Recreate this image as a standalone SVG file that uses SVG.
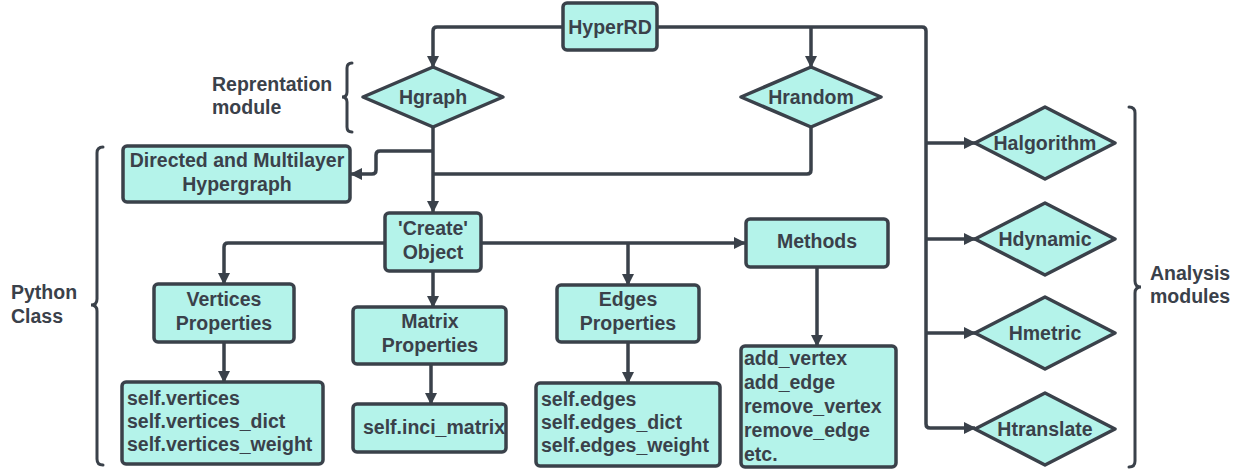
<svg xmlns="http://www.w3.org/2000/svg" width="1245" height="470" viewBox="0 0 1245 470">
<defs>
<marker id="ah" markerUnits="userSpaceOnUse" markerWidth="14" markerHeight="14" refX="11" refY="6" orient="auto">
<path d="M0,0 L12,6 L0,12 Z" fill="#3a414a"/>
</marker>
<style>
.n{fill:#b4f3ea;stroke:#3a414a;stroke-width:3.5;stroke-linejoin:round}
.t{font-family:"Liberation Sans",Arial,sans-serif;font-weight:bold;font-size:19.5px;fill:#3a414a}
.c{text-anchor:middle}
.e{fill:none;stroke:#3a414a;stroke-width:3.5;stroke-linejoin:round}
.a{marker-end:url(#ah)}
.b{fill:none;stroke:#3a414a;stroke-width:3;stroke-linecap:round}
</style>
</defs>
<rect width="1245" height="470" fill="#ffffff"/>
<g id="connectors">
<path class="e a" d="M563,27 H437 Q433,27 433,31 V67"/>
<path class="e a" d="M657,27 H922 Q926,27 926,31 V424 Q926,428 930,428 H975"/>
<path class="e a" d="M811,27 V67"/>
<path class="e a" d="M926,143 H975"/>
<path class="e a" d="M926,239 H975"/>
<path class="e a" d="M926,333 H975"/>
<path class="e a" d="M433,127 V212"/>
<path class="e a" d="M433,151 H380 Q376,151 376,155 V170 Q376,174 372,174 H351"/>
<path class="e" d="M811,127 V170 Q811,174 807,174 H433"/>
<path class="e a" d="M385,243 H228 Q224,243 224,247 V284"/>
<path class="e a" d="M481,243 H745"/>
<path class="e a" d="M628,243 V285"/>
<path class="e a" d="M433,271 V307"/>
<path class="e a" d="M224,342 V382"/>
<path class="e a" d="M431,364 V404"/>
<path class="e a" d="M628,342 V383"/>
<path class="e a" d="M817,267 V346"/>
</g>
<g id="braces">
<path class="b" d="M352,63 Q347,63 347,68 V92 Q347,97 342,97 Q347,97 347,102 V127 Q347,132 352,132"/>
<path class="b" d="M103,147 Q97,147 97,153 V299 Q97,305 91,305 Q97,305 97,311 V459 Q97,465 103,465"/>
<path class="b" d="M1129,107 Q1135,107 1135,113 V281 Q1135,287 1141,287 Q1135,287 1135,293 V461 Q1135,467 1129,467"/>
</g>
<g id="label-reprentation"><text class="t" x="212" y="91">Reprentation</text><text class="t" x="212" y="114">module</text></g>
<g id="label-python"><text class="t" x="11" y="299">Python</text><text class="t" x="11" y="323">Class</text></g>
<g id="label-analysis"><text class="t" x="1150" y="280">Analysis</text><text class="t" x="1150" y="303">modules</text></g>
<g id="hyperrd"><rect class="n" x="563" y="3" width="94" height="47" rx="4"/><text class="t c" x="610" y="34">HyperRD</text></g>
<g id="hgraph"><polygon class="n" points="433,67 503,97 433,127 363,97"/><text class="t c" x="433" y="104">Hgraph</text></g>
<g id="hrandom"><polygon class="n" points="811,67 881,97 811,127 741,97"/><text class="t c" x="811" y="104">Hrandom</text></g>
<g id="halgorithm"><polygon class="n" points="1045,107 1115,143 1045,179 975,143"/><text class="t c" x="1045" y="150">Halgorithm</text></g>
<g id="hdynamic"><polygon class="n" points="1045,203 1115,239 1045,275 975,239"/><text class="t c" x="1045" y="246">Hdynamic</text></g>
<g id="hmetric"><polygon class="n" points="1045,297 1115,333 1045,369 975,333"/><text class="t c" x="1045" y="340">Hmetric</text></g>
<g id="htranslate"><polygon class="n" points="1045,393 1115,429 1045,465 975,429"/><text class="t c" x="1045" y="436">Htranslate</text></g>
<g id="directed"><rect class="n" x="123" y="146" width="227" height="56" rx="4"/><text class="t c" x="237" y="167">Directed and Multilayer</text><text class="t c" x="237" y="191">Hypergraph</text></g>
<g id="create"><rect class="n" x="385" y="213" width="96" height="58" rx="4"/><text class="t c" x="433" y="235">'Create'</text><text class="t c" x="433" y="259">Object</text></g>
<g id="methods"><rect class="n" x="746" y="219" width="142" height="48" rx="4"/><text class="t c" x="817" y="248">Methods</text></g>
<g id="vertices"><rect class="n" x="154" y="284" width="140" height="58" rx="4"/><text class="t c" x="224" y="306">Vertices</text><text class="t c" x="224" y="330">Properties</text></g>
<g id="matrix"><rect class="n" x="353" y="307" width="153" height="57" rx="4"/><text class="t c" x="430" y="328">Matrix</text><text class="t c" x="430" y="352">Properties</text></g>
<g id="edges"><rect class="n" x="557" y="285" width="142" height="57" rx="4"/><text class="t c" x="628" y="306">Edges</text><text class="t c" x="628" y="330">Properties</text></g>
<g id="vertices-attrs"><rect class="n" x="122" y="382" width="201" height="82" rx="4"/><text class="t" x="127" y="405">self.vertices</text><text class="t" x="127" y="428">self.vertices_dict</text><text class="t" x="127" y="451">self.vertices_weight</text></g>
<g id="matrix-attrs"><rect class="n" x="353" y="404" width="153" height="48" rx="4"/><text class="t" x="363" y="434">self.inci_matrix</text></g>
<g id="edges-attrs"><rect class="n" x="536" y="383" width="184" height="83" rx="4"/><text class="t" x="541" y="406">self.edges</text><text class="t" x="541" y="429">self.edges_dict</text><text class="t" x="541" y="452">self.edges_weight</text></g>
<g id="methods-list"><rect class="n" x="741" y="346" width="155" height="121" rx="4"/><text class="t" x="744" y="365">add_vertex</text><text class="t" x="744" y="389">add_edge</text><text class="t" x="744" y="413">remove_vertex</text><text class="t" x="744" y="437">remove_edge</text><text class="t" x="744" y="461">etc.</text></g>
</svg>
